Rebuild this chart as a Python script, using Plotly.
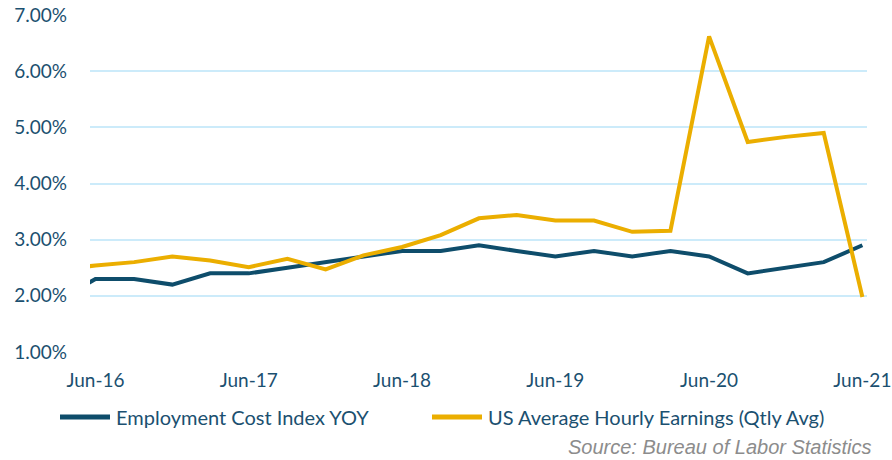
import plotly.graph_objects as go

quarters = ["2016-03-01", "2016-06-01", "2016-09-01", "2016-12-01",
            "2017-03-01", "2017-06-01", "2017-09-01", "2017-12-01",
            "2018-03-01", "2018-06-01", "2018-09-01", "2018-12-01",
            "2019-03-01", "2019-06-01", "2019-09-01", "2019-12-01",
            "2020-03-01", "2020-06-01", "2020-09-01", "2020-12-01",
            "2021-03-01", "2021-06-01"]
eci_yoy = [1.9, 2.3, 2.3, 2.2, 2.4, 2.4, 2.5, 2.6, 2.7, 2.8, 2.8, 2.9,
           2.8, 2.7, 2.8, 2.7, 2.8, 2.7, 2.4, 2.5, 2.6, 2.9]
ahe_qtly = [2.46, 2.54, 2.60, 2.70, 2.63, 2.51, 2.66, 2.47, 2.72, 2.87, 3.08, 3.38,
            3.44, 3.34, 3.34, 3.14, 3.16, 6.62, 4.74, 4.83, 4.90, 1.98]
y_ticks = [1, 2, 3, 4, 5, 6, 7]
y_tick_labels = ["1.00%", "2.00%", "3.00%", "4.00%", "5.00%", "6.00%", "7.00%"]
series_names = ["Employment Cost Index YOY", "US Average Hourly Earnings (Qtly Avg)"]

ECI_COLOR = "#0E4D6B"
AHE_COLOR = "#EBAE00"
TEXT_COLOR = "#1B5070"
FONT = "Lato, 'Open Sans', sans-serif"

L, R, T, B = 90, 25, 15, 108
PW, PH = 892 - L - R, 460 - T - B


def px(x):
    return (x - L) / PW


def py(y):
    return (460 - B - y) / PH


fig = go.Figure()
fig.add_trace(go.Scatter(x=quarters, y=eci_yoy, mode="lines", name=series_names[0],
                         line=dict(color=ECI_COLOR, width=4), showlegend=False))
fig.add_trace(go.Scatter(x=quarters, y=ahe_qtly, mode="lines", name=series_names[1],
                         line=dict(color=AHE_COLOR, width=4), showlegend=False))

fig.update_layout(
    width=892, height=460,
    margin=dict(l=L, r=R, t=T, b=B, autoexpand=False),
    paper_bgcolor="white", plot_bgcolor="white",
    font=dict(family=FONT, color=TEXT_COLOR, size=20),
    xaxis=dict(type="date", range=["2016-05-19", "2021-06-12"],
               tickformat="%b-%y", dtick="M12", tick0="2016-06-01",
               showgrid=False, zeroline=False, showline=False,
               ticks="", ticklabelstandoff=15, ticklabeloverflow="allow",
               tickfont=dict(size=19, color=TEXT_COLOR)),
    yaxis=dict(range=[1, 7], tickvals=y_ticks, ticktext=y_tick_labels,
               showgrid=True, gridcolor="#CCEBFA", gridwidth=1.5,
               zeroline=False, showline=False, ticks="",
               ticklabelstandoff=22, ticklabeloverflow="allow",
               tickfont=dict(size=19, color=TEXT_COLOR)),
)

# custom legend
legend_y = 417
fig.add_shape(type="line", xref="paper", yref="paper",
              x0=px(60), x1=px(110), y0=py(legend_y), y1=py(legend_y),
              line=dict(color=ECI_COLOR, width=5))
fig.add_shape(type="line", xref="paper", yref="paper",
              x0=px(432), x1=px(482), y0=py(legend_y), y1=py(legend_y),
              line=dict(color=AHE_COLOR, width=5))
fig.add_annotation(xref="paper", yref="paper", x=px(114), y=py(legend_y),
                   xanchor="left", yanchor="middle",
                   text=series_names[0], showarrow=False,
                   font=dict(family=FONT, size=20, color=TEXT_COLOR))
fig.add_annotation(xref="paper", yref="paper", x=px(486), y=py(legend_y),
                   xanchor="left", yanchor="middle",
                   text=series_names[1], showarrow=False,
                   font=dict(family=FONT, size=20, color=TEXT_COLOR))
fig.add_annotation(xref="paper", yref="paper", x=px(874), y=py(447),
                   xanchor="right", yanchor="middle",
                   text="<i>Source: Bureau of Labor Statistics</i>", showarrow=False,
                   font=dict(family="'Liberation Sans', Arial, sans-serif", size=20,
                             color="#8C8C8C"))

fig.write_html("out.html", config={"displayModeBar": False},
               post_script="document.body.style.margin='0';document.body.style.overflow='hidden';")
